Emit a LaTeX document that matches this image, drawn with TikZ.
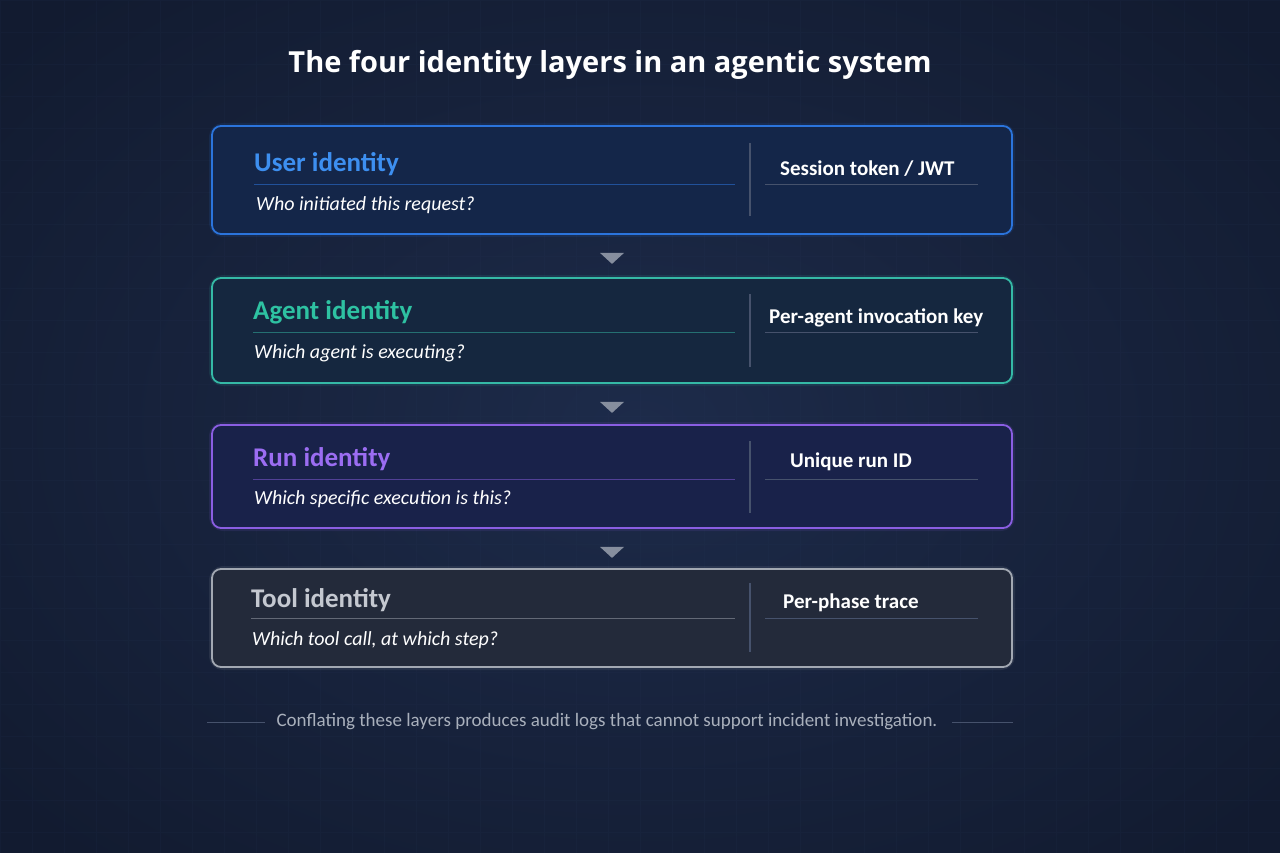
\documentclass[tikz,border=0pt]{standalone}
\usepackage{fontspec}
\setmainfont{Carlito}
\newfontfamily\titlefont{Open Sans}
\usetikzlibrary{calc}
\definecolor{bgin}{HTML}{1D2B4A}
\definecolor{bgout}{HTML}{121B30}
\definecolor{gridc}{HTML}{2A3A5C}
\definecolor{ublue}{HTML}{3D8FF0}
\definecolor{ubord}{HTML}{2B74DC}
\definecolor{ufill}{HTML}{142649}
\definecolor{ateal}{HTML}{2EC2A2}
\definecolor{abord}{HTML}{35B9A6}
\definecolor{afill}{HTML}{15273F}
\definecolor{rpurp}{HTML}{9B6DF2}
\definecolor{rbord}{HTML}{8A5EE2}
\definecolor{rfill}{HTML}{19224A}
\definecolor{tgray}{HTML}{C4C8D0}
\definecolor{tbord}{HTML}{A2A8B2}
\definecolor{tfill}{HTML}{232A3A}
\definecolor{divc}{HTML}{46526C}
\definecolor{arrc}{HTML}{868E9E}
\definecolor{footc}{HTML}{A9B0BC}
\tikzset{
  layerbox/.style={rounded corners=9pt, line width=1.8pt, minimum width=800pt, inner sep=0pt},
  glow/.style={rounded corners=11pt, line width=6pt, draw opacity=0.12},
  ltitle/.style={anchor=west, inner sep=0pt, font=\bfseries\fontsize{27}{30}\selectfont},
  lsub/.style={anchor=west, inner sep=0pt, text=white, font=\itshape\fontsize{20}{24}\selectfont},
  lright/.style={anchor=west, inner sep=0pt, text=white, font=\bfseries\fontsize{21}{24}\selectfont},
  rule/.style={line width=1pt},
  divider/.style={draw=divc, line width=1.2pt},
  tri/.style={fill=arrc},
}
\begin{document}
\begin{tikzpicture}[x=1pt,y=-1pt]
\useasboundingbox (0,0) rectangle (1280,853);
\shade[inner color=bgin, outer color=bgout] (-200,-150) rectangle (1480,1003);
\draw[gridc, line width=0.5pt, opacity=0.12, step=32pt] (0,0) grid (1280,853);

\node[font=\titlefont\bfseries\fontsize{29}{34}\selectfont, text=white] (title) at (610,65) {The four identity layers in an agentic system};

% Box 1
\draw[ubord, glow] (212,126) rectangle (1012,234);
\node[layerbox, draw=ubord, fill=ufill, minimum height=108pt] (b1) at (612,180) {};
\node[ltitle, text=ublue] (t1) at (254,164) {User identity};
\node[lsub] (s1) at (256,205) {Who initiated this request?};
\node[lright] (r1) at (780,169) {Session token / JWT};
\coordinate (u1a) at (254,185); \coordinate (u1b) at (735,185);
\coordinate (v1a) at (765,185); \coordinate (v1b) at (978,185);
\coordinate (d1a) at (750,143); \coordinate (d1b) at (750,216);
\draw[rule, draw=ubord!55!ufill] (u1a) -- (u1b);
\draw[rule, draw=divc] (v1a) -- (v1b);
\draw[divider] (d1a) -- (d1b);

% Box 2
\draw[abord, glow] (212,278) rectangle (1012,383);
\node[layerbox, draw=abord, fill=afill, minimum height=105pt] (b2) at (612,330.5) {};
\node[ltitle, text=ateal] (t2) at (253,312) {Agent identity};
\node[lsub] (s2) at (254,353) {Which agent is executing?};
\node[lright] (r2) at (769,318) {Per-agent invocation key};
\coordinate (u2a) at (253,332); \coordinate (u2b) at (735,332);
\coordinate (v2a) at (765,332); \coordinate (v2b) at (978,332);
\coordinate (d2a) at (750,294); \coordinate (d2b) at (750,367);
\draw[rule, draw=abord!50!afill] (u2a) -- (u2b);
\draw[rule, draw=divc] (v2a) -- (v2b);
\draw[divider] (d2a) -- (d2b);

% Box 3
\draw[rbord, glow] (212,425) rectangle (1012,528);
\node[layerbox, draw=rbord, fill=rfill, minimum height=103pt] (b3) at (612,476.5) {};
\node[ltitle, text=rpurp] (t3) at (253,459) {Run identity};
\node[lsub] (s3) at (254,499) {Which specific execution is this?};
\node[lright] (r3) at (790,462) {Unique run ID};
\coordinate (u3a) at (253,479); \coordinate (u3b) at (735,479);
\coordinate (v3a) at (765,479); \coordinate (v3b) at (978,479);
\coordinate (d3a) at (750,441); \coordinate (d3b) at (750,513);
\draw[rule, draw=rbord!50!rfill] (u3a) -- (u3b);
\draw[rule, draw=divc] (v3a) -- (v3b);
\draw[divider] (d3a) -- (d3b);

% Box 4
\draw[tbord, glow] (212,569) rectangle (1012,667);
\node[layerbox, draw=tbord, fill=tfill, minimum height=98pt] (b4) at (612,618) {};
\node[ltitle, text=tgray] (t4) at (251,600) {Tool identity};
\node[lsub] (s4) at (252,640) {Which tool call, at which step?};
\node[lright] (r4) at (783,603) {Per-phase trace};
\coordinate (u4a) at (251,618); \coordinate (u4b) at (735,618);
\coordinate (v4a) at (765,618); \coordinate (v4b) at (978,618);
\coordinate (d4a) at (750,583); \coordinate (d4b) at (750,652);
\draw[rule, draw=tbord!50!tfill] (u4a) -- (u4b);
\draw[rule, draw=divc] (v4a) -- (v4b);
\draw[divider] (d4a) -- (d4b);

% Arrows between boxes
\fill[tri] ($(b1.south)+(-12,18)$) -- ($(b1.south)+(12,18)$) -- ($(b1.south)+(0,29)$) -- cycle;
\fill[tri] ($(b2.south)+(-12,18)$) -- ($(b2.south)+(12,18)$) -- ($(b2.south)+(0,29)$) -- cycle;
\fill[tri] ($(b3.south)+(-12,18)$) -- ($(b3.south)+(12,18)$) -- ($(b3.south)+(0,29)$) -- cycle;

% Footer
\node[text=footc, font=\fontsize{19}{22}\selectfont, inner sep=0pt] (foot) at (607,722) {Conflating these layers produces audit logs that cannot support incident investigation.};
\coordinate (fl1) at (207,722); \coordinate (fl2) at (265,722);
\coordinate (fr1) at (952,722); \coordinate (fr2) at (1013,722);
\draw[divc, line width=1pt] (fl1) -- (fl2);
\draw[divc, line width=1pt] (fr1) -- (fr2);
\end{tikzpicture}
\end{document}
